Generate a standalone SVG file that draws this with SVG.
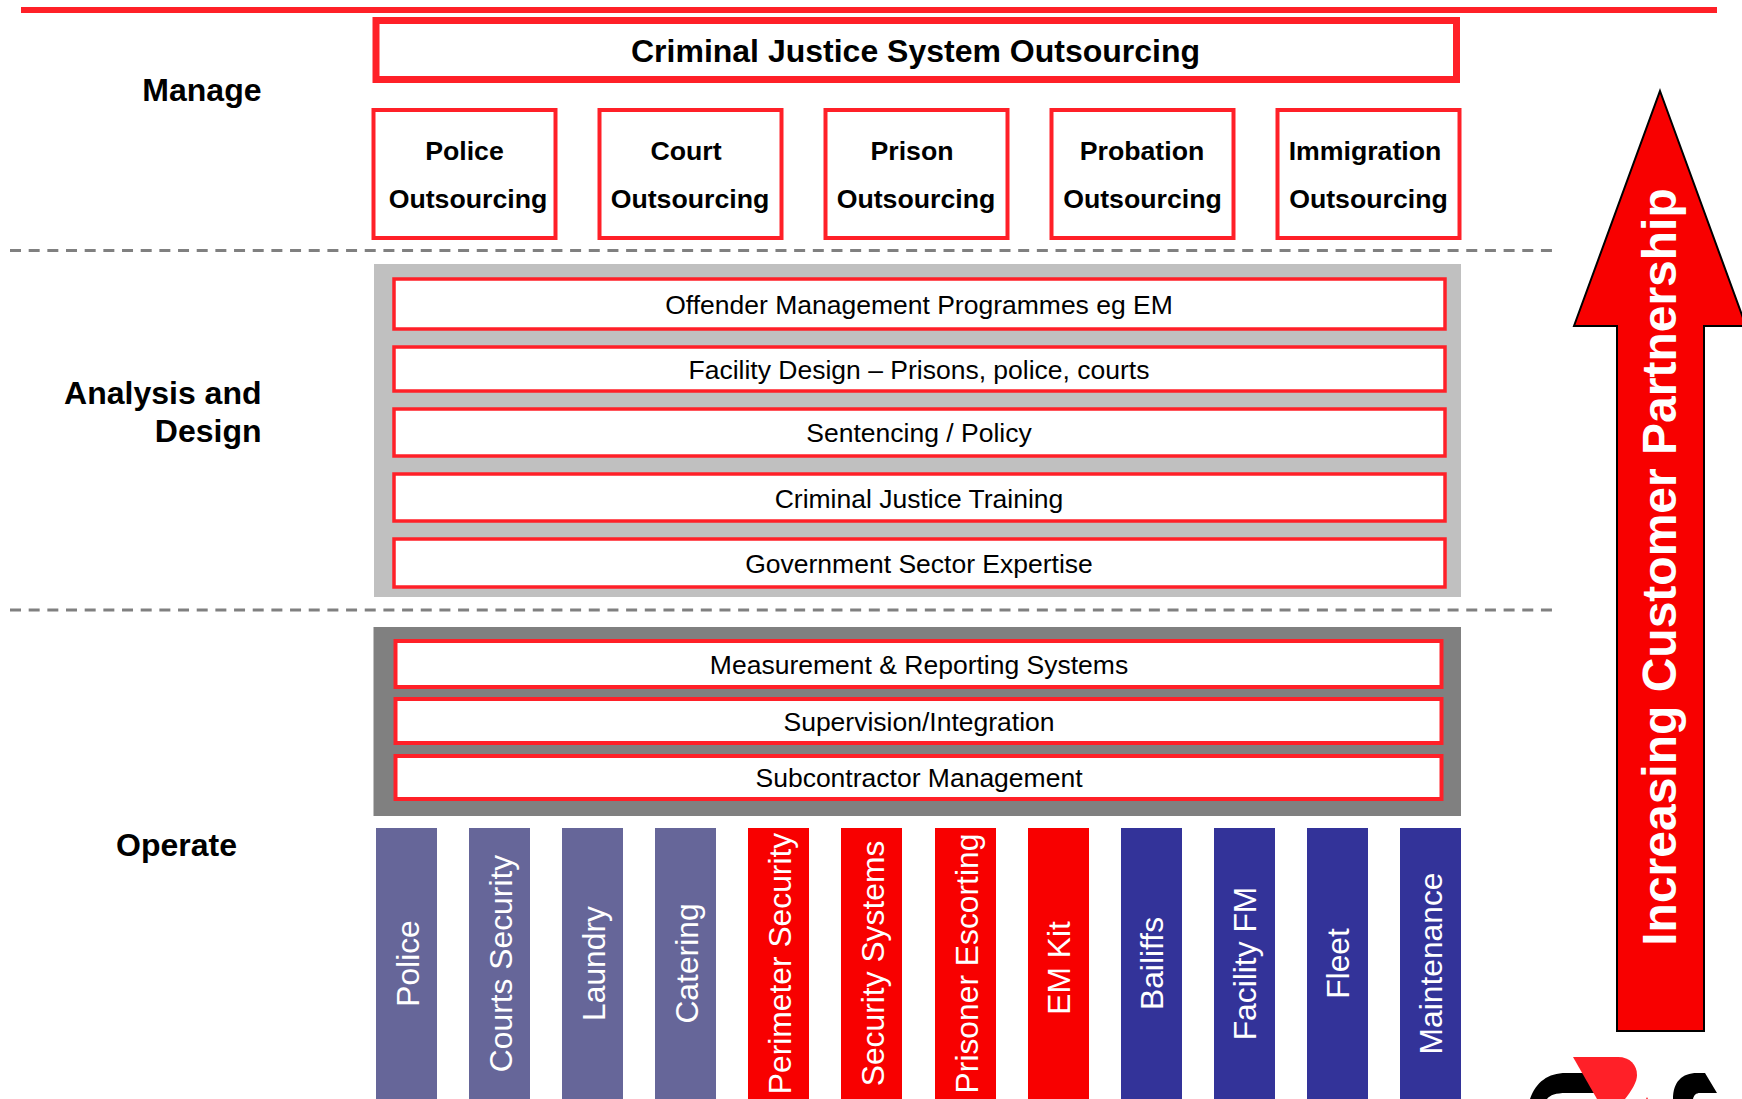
<svg xmlns="http://www.w3.org/2000/svg" width="1742" height="1099" viewBox="0 0 1742 1099">
<style>
text{font-family:"Liberation Sans",Arial,sans-serif;text-anchor:middle;fill:#000}
.h{font-weight:700;font-size:32px;text-anchor:end}
.b{font-weight:700;font-size:26.700px}
.r{font-size:26.500px}
.v{font-size:31.800px;fill:#fff}
.box{fill:#fff;stroke:#ff2028;stroke-width:4}
.row{fill:#fff;stroke:#ff2028;stroke-width:3.500}
.dash{stroke:#808080;stroke-width:3;stroke-dasharray:11 7.670;fill:none}
.g{fill:#666699}.e{fill:#f80000}.n{fill:#333399}
</style>
<rect width="1742" height="1099" fill="#fff"/>
<g id="connectors">
<line class="dash" x1="10" y1="250.500" x2="1553" y2="250.500"/>
<line class="dash" x1="10" y1="610" x2="1553" y2="610"/>
</g>
<rect id="top-rule" x="21" y="7" width="1696" height="6" fill="#ff2028"/>
<g id="labels">
<text class="h" x="261.500" y="100.500">Manage</text>
<text class="h" x="261.500" y="404">Analysis and</text>
<text class="h" x="261.500" y="442">Design</text>
<text class="h" x="237" y="856">Operate</text>
</g>
<g id="title"><rect x="376" y="20.500" width="1080.500" height="59" fill="#fff" stroke="#ff2028" stroke-width="7"/><text x="915.500" y="62" style="font-weight:700;font-size:32px">Criminal Justice System Outsourcing</text></g>
<g id="police"><rect class="box" x="373.500" y="110" width="182" height="128"/><text class="b" x="464.500" y="160">Police</text><text class="b" x="468" y="208">Outsourcing</text></g>
<g id="court"><rect class="box" x="599.500" y="110" width="182" height="128"/><text class="b" x="686" y="160">Court</text><text class="b" x="690" y="208">Outsourcing</text></g>
<g id="prison"><rect class="box" x="825.500" y="110" width="182" height="128"/><text class="b" x="912" y="160">Prison</text><text class="b" x="916" y="208">Outsourcing</text></g>
<g id="probation"><rect class="box" x="1051.500" y="110" width="182" height="128"/><text class="b" x="1142" y="160">Probation</text><text class="b" x="1142.500" y="208">Outsourcing</text></g>
<g id="immigration"><rect class="box" x="1277.500" y="110" width="182" height="128"/><text class="b" x="1365" y="160">Immigration</text><text class="b" x="1368.500" y="208">Outsourcing</text></g>
<g id="analysis-panel">
<rect x="374" y="264" width="1087" height="333" fill="#c0c0c0"/>
</g>
<g id="offender"><rect class="row" x="394" y="279" width="1051" height="50"/><text class="r" x="919" y="314">Offender Management Programmes eg EM</text></g>
<g id="facility"><rect class="row" x="394" y="347" width="1051" height="44"/><text class="r" x="919" y="379">Facility Design – Prisons, police, courts</text></g>
<g id="sentencing"><rect class="row" x="394" y="409" width="1051" height="47"/><text class="r" x="919" y="442">Sentencing / Policy</text></g>
<g id="training"><rect class="row" x="394" y="474" width="1051" height="47"/><text class="r" x="919" y="508">Criminal Justice Training</text></g>
<g id="expertise"><rect class="row" x="394" y="539" width="1051" height="48"/><text class="r" x="919" y="573">Government Sector Expertise</text></g>
<g id="operate-panel"><rect x="373.500" y="627" width="1087.500" height="189" fill="#808080"/></g>
<g id="measurement"><rect class="box" x="395.500" y="641" width="1046" height="46"/><text class="r" x="919" y="674">Measurement &amp; Reporting Systems</text></g>
<g id="supervision"><rect class="box" x="395.500" y="699" width="1046" height="44"/><text class="r" x="919" y="731">Supervision/Integration</text></g>
<g id="subcontractor"><rect class="box" x="395.500" y="756" width="1046" height="43"/><text class="r" x="919" y="787">Subcontractor Management</text></g>
<g id="bar-police"><rect class="g" x="376" y="828" width="61" height="271"/><text class="v" transform="translate(418.500 963.500) rotate(-90)">Police</text></g>
<g id="bar-courts"><rect class="g" x="469" y="828" width="61" height="271"/><text class="v" transform="translate(511.500 963.500) rotate(-90)">Courts Security</text></g>
<g id="bar-laundry"><rect class="g" x="562" y="828" width="61" height="271"/><text class="v" transform="translate(604.500 963.500) rotate(-90)">Laundry</text></g>
<g id="bar-catering"><rect class="g" x="655" y="828" width="61" height="271"/><text class="v" transform="translate(697.500 963.500) rotate(-90)">Catering</text></g>
<g id="bar-perimeter"><rect class="e" x="748" y="828" width="61" height="271"/><text class="v" transform="translate(790.500 963.500) rotate(-90)">Perimeter Security</text></g>
<g id="bar-systems"><rect class="e" x="841" y="828" width="61" height="271"/><text class="v" transform="translate(883.500 963.500) rotate(-90)">Security Systems</text></g>
<g id="bar-escorting"><rect class="e" x="935" y="828" width="61" height="271"/><text class="v" transform="translate(977.500 963.500) rotate(-90)">Prisoner Escorting</text></g>
<g id="bar-emkit"><rect class="e" x="1028" y="828" width="61" height="271"/><text class="v" transform="translate(1070 968) rotate(-90)">EM Kit</text></g>
<g id="bar-bailiffs"><rect class="n" x="1121" y="828" width="61" height="271"/><text class="v" transform="translate(1163 963.500) rotate(-90)">Bailiffs</text></g>
<g id="bar-facilityfm"><rect class="n" x="1214" y="828" width="61" height="271"/><text class="v" transform="translate(1256 963.500) rotate(-90)">Facility FM</text></g>
<g id="bar-fleet"><rect class="n" x="1307" y="828" width="61" height="271"/><text class="v" transform="translate(1349 963.500) rotate(-90)">Fleet</text></g>
<g id="bar-maintenance"><rect class="n" x="1400" y="828" width="61" height="271"/><text class="v" transform="translate(1442 963.500) rotate(-90)">Maintenance</text></g>
<g id="arrow"><path d="M1660 91L1746 326H1704V1031H1617V326H1574Z" fill="#f80000" stroke="#000" stroke-width="2"/><text transform="translate(1675.500 567) rotate(-90)" style="font-weight:700;font-size:48px;fill:#fff">Increasing Customer Partnership</text></g>
<g id="logo">
<path d="M1530 1099C1536 1082 1548 1073 1566 1073H1587L1602 1093H1566C1556 1093 1550 1095 1547 1099Z" fill="#000"/>
<path d="M1673 1099C1673 1082 1682 1073 1697 1073H1705L1717 1093H1700C1696 1093 1694 1095 1693 1099Z" fill="#000"/>
<path d="M1573 1057H1618C1630 1057 1637 1065 1637 1075C1637 1082 1632 1090 1625 1099H1597Z" fill="#ff2028"/>
<path d="M1646 1099L1647 1097L1648 1099Z" fill="#ff2028"/>
</g>
</svg>
